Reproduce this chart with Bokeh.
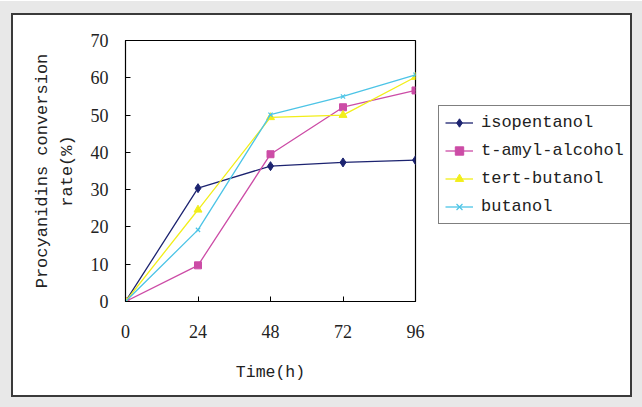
from bokeh.plotting import figure
from bokeh.models import Range1d, FixedTicker, Legend, LegendItem
from bokeh.embed import file_html
from bokeh.resources import INLINE

time_h = [0, 24, 48, 72, 96]
isopentanol = [0, 30.4, 36.3, 37.3, 37.9]
t_amyl_alcohol = [0, 9.7, 39.5, 52.1, 56.6]
tert_butanol = [0, 24.6, 49.4, 50.0, 60.2]
butanol = [0, 19.2, 50.1, 55.0, 60.8]
y_ticks = [0, 10, 20, 30, 40, 50, 60, 70]

p = figure(output_backend="svg", toolbar_location=None,
           x_range=Range1d(0, 96), y_range=Range1d(0, 70),
           frame_width=290, frame_height=261,
           min_border_left=112, min_border_right=215, min_border_top=25, min_border_bottom=94)
p.styles = {"border": "2px solid #3a3a3a", "margin-left": "11px", "margin-top": "13px",
            "box-shadow": "0 0 0 12px #e8e8e8", "width": "621px", "height": "384px",
            "overflow": "hidden"}
p.xgrid.visible = False
p.ygrid.visible = False
p.outline_line_color = "black"
p.outline_line_width = 1.2

for ax in (p.xaxis[0], p.yaxis[0]):
    ax.major_tick_in = 5
    ax.major_tick_out = 0
    ax.minor_tick_in = 0
    ax.minor_tick_out = 0
    ax.axis_line_color = "black"
    ax.major_tick_line_color = "black"
    ax.major_label_text_font = "Liberation Serif"
    ax.major_label_text_font_size = "18px"
    ax.major_label_text_color = "#222222"
    ax.axis_label_text_font = "Liberation Mono"
    ax.axis_label_text_font_style = "normal"
    ax.axis_label_text_color = "#222222"

p.xaxis[0].ticker = FixedTicker(ticks=time_h)
p.yaxis[0].ticker = FixedTicker(ticks=y_ticks)
p.xaxis[0].major_label_standoff = 23
p.yaxis[0].major_label_standoff = 17
p.xaxis[0].axis_label = "Time(h)"
p.xaxis[0].axis_label_text_font_size = "16.5px"
p.xaxis[0].axis_label_standoff = 22
p.yaxis[0].axis_label = "Procyanidins conversion\nrate(%)"
p.yaxis[0].axis_label_text_font_size = "17px"
p.yaxis[0].axis_label_standoff = 11
p.yaxis[0].axis_label_text_line_height = 1.3

c1, c2, c3, c4 = "#1c2370", "#cc4ca6", "#f2ee1a", "#4cc4e6"

l1 = p.line(time_h, isopentanol, line_color=c1, line_width=1.3)
m1 = p.scatter(time_h, isopentanol, marker="diamond", size=9, color=c1)
l2 = p.line(time_h, t_amyl_alcohol, line_color=c2, line_width=1.3)
m2 = p.scatter(time_h, t_amyl_alcohol, marker="square", size=7, color=c2)
l3 = p.line(time_h, tert_butanol, line_color=c3, line_width=1.3)
m3 = p.scatter(time_h, tert_butanol, marker="triangle", size=8, color=c3)
l4 = p.line(time_h, butanol, line_color=c4, line_width=1.3)
m4 = p.scatter(time_h, butanol, marker="x", size=6, line_color=c4, line_width=1.2)

legend = Legend(items=[
    LegendItem(label="isopentanol", renderers=[l1, m1]),
    LegendItem(label="t-amyl-alcohol", renderers=[l2, m2]),
    LegendItem(label="tert-butanol", renderers=[l3, m3]),
    LegendItem(label="butanol", renderers=[l4, m4]),
], location=(23, 77))
legend.label_text_font = "Liberation Mono"
legend.label_text_font_size = "17px"
legend.label_text_color = "#222222"
legend.border_line_color = "black"
legend.border_line_width = 1.2
legend.label_height = 21
legend.glyph_height = 21
legend.glyph_width = 28
legend.spacing = 7
legend.padding = 6
legend.margin = 0
legend.label_standoff = 8
p.add_layout(legend, "right")

open("out.html", "w").write(file_html(p, INLINE))
